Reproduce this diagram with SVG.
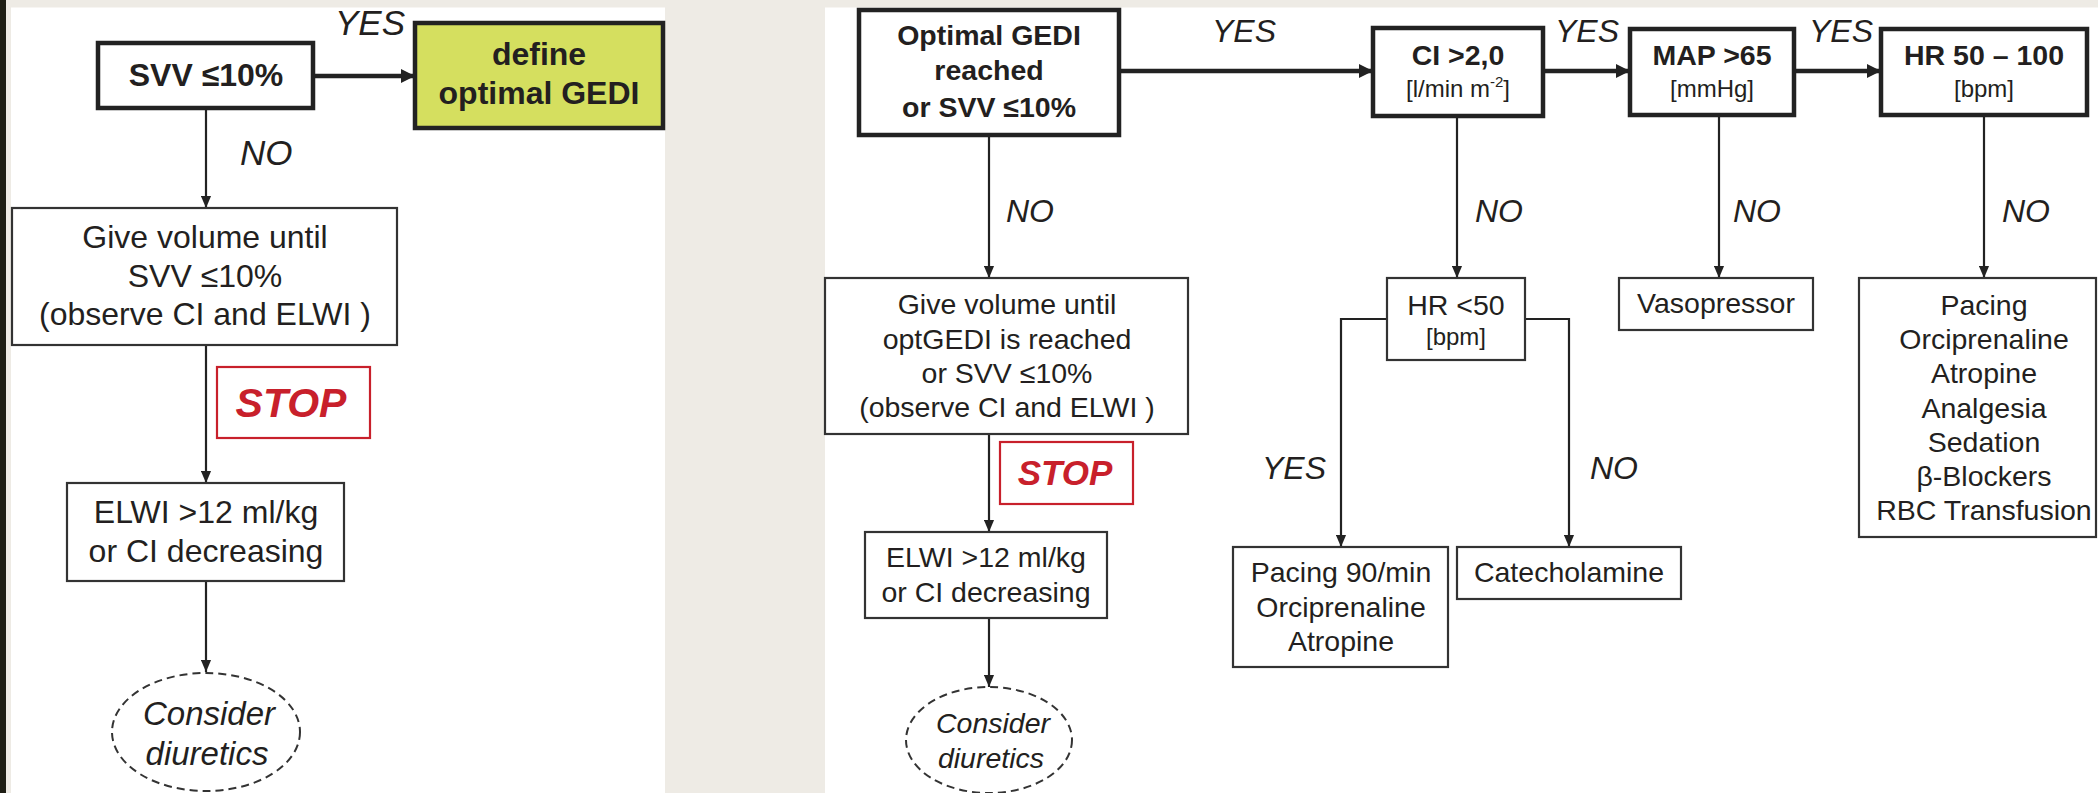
<svg xmlns="http://www.w3.org/2000/svg" width="2098" height="793" viewBox="0 0 2098 793">
<defs>
<style>
.t{font-family:"Liberation Sans",Arial,sans-serif;fill:#231f20;text-anchor:middle}
.s{text-anchor:start}
.bd{font-weight:bold}
.it{font-style:italic}
.L{font-size:32px}
.R{font-size:28.5px}
.sm{font-size:24px}
.box{fill:#fff;stroke:#333;stroke-width:2.2}
.thick{fill:#fff;stroke:#222;stroke-width:4.5}
.ln{fill:none;stroke:#222;stroke-width:2.2}
.lt{fill:none;stroke:#222;stroke-width:4.5}
.stop{fill:#fff;stroke:#c8202b;stroke-width:2.2}
.stopt{font-family:"Liberation Sans",Arial,sans-serif;font-weight:bold;font-style:italic;fill:#c8202b;text-anchor:middle}
.dash{fill:#fff;stroke:#333;stroke-width:2;stroke-dasharray:8 5}
</style>
<marker id="a" markerUnits="userSpaceOnUse" markerWidth="12" markerHeight="11" refX="13" refY="5.5" orient="auto" viewBox="0 0 13 11"><path d="M0,0 L13,5.5 L0,11 z" fill="#222"/></marker>
<marker id="A" markerUnits="userSpaceOnUse" markerWidth="14" markerHeight="14" refX="14" refY="7" orient="auto" viewBox="0 0 14 14"><path d="M0,0 L14,7 L0,14 z" fill="#222"/></marker>
</defs>
<rect x="0" y="0" width="2098" height="793" fill="#eeebe5"/>
<rect x="0" y="0" width="6" height="793" fill="#1e1e14"/>
<rect x="11" y="7.5" width="654" height="786" fill="#fff"/>
<rect x="825" y="7.5" width="1273" height="786" fill="#fff"/>

<g id="connectors">
<line class="lt" x1="313" y1="76" x2="415" y2="76" marker-end="url(#A)"/>
<line class="ln" x1="206" y1="108" x2="206" y2="208" marker-end="url(#a)"/>
<line class="ln" x1="206" y1="345" x2="206" y2="483" marker-end="url(#a)"/>
<line class="ln" x1="206" y1="581" x2="206" y2="672" marker-end="url(#a)"/>
<line class="lt" x1="1119" y1="71" x2="1373" y2="71" marker-end="url(#A)"/>
<line class="lt" x1="1543" y1="71" x2="1630" y2="71" marker-end="url(#A)"/>
<line class="lt" x1="1794" y1="71" x2="1881" y2="71" marker-end="url(#A)"/>
<line class="ln" x1="989" y1="135" x2="989" y2="278" marker-end="url(#a)"/>
<line class="ln" x1="989" y1="434" x2="989" y2="532" marker-end="url(#a)"/>
<line class="ln" x1="989" y1="618" x2="989" y2="687" marker-end="url(#a)"/>
<line class="ln" x1="1457" y1="116" x2="1457" y2="278" marker-end="url(#a)"/>
<line class="ln" x1="1719" y1="115" x2="1719" y2="278" marker-end="url(#a)"/>
<line class="ln" x1="1984" y1="115" x2="1984" y2="278" marker-end="url(#a)"/>
<polyline class="ln" points="1387,319 1341,319 1341,547" marker-end="url(#a)"/>
<polyline class="ln" points="1525,319 1569,319 1569,547" marker-end="url(#a)"/>
<text class="t it" style="font-size:35px" x="370" y="35">YES</text>
<text class="t it s" style="font-size:35px" x="240" y="165">NO</text>
<text class="t it" style="font-size:32px" x="1244" y="42">YES</text>
<text class="t it" style="font-size:32px" x="1587" y="42">YES</text>
<text class="t it" style="font-size:32px" x="1841" y="42">YES</text>
<text class="t it s" style="font-size:32px" x="1006" y="222">NO</text>
<text class="t it s" style="font-size:32px" x="1475" y="222">NO</text>
<text class="t it s" style="font-size:32px" x="1733" y="222">NO</text>
<text class="t it s" style="font-size:32px" x="2002" y="222">NO</text>
<text class="t it" style="font-size:32px" x="1294" y="479">YES</text>
<text class="t it" style="font-size:32px" x="1614" y="479">NO</text>
</g>

<g id="svv">
<rect class="thick" x="98" y="43" width="215" height="65"/>
<text class="t bd L" x="206" y="86">SVV ≤10%</text>
</g>
<g id="define-gedi">
<rect class="thick" x="415" y="23" width="248" height="105" style="fill:#d5df5f"/>
<text class="t bd L" x="539" y="65">define</text>
<text class="t bd L" x="539" y="104">optimal GEDI</text>
</g>
<g id="give-volume-left">
<rect class="box" x="12" y="208" width="385" height="137"/>
<text class="t L" x="205" y="248">Give volume until</text>
<text class="t L" x="205" y="287">SVV ≤10%</text>
<text class="t L" x="205" y="325">(observe CI and ELWI )</text>
</g>
<g id="stop-left">
<rect class="stop" x="217" y="367" width="153" height="71"/>
<text class="stopt" style="font-size:41px" x="291" y="417">STOP</text>
</g>
<g id="elwi-left">
<rect class="box" x="67" y="483" width="277" height="98"/>
<text class="t L" x="206" y="523">ELWI &gt;12 ml/kg</text>
<text class="t L" x="206" y="562">or CI decreasing</text>
</g>
<g id="diuretics-left">
<ellipse class="dash" cx="206" cy="732" rx="94" ry="59"/>
<text class="t it" style="font-size:33px" x="209" y="725">Consider</text>
<text class="t it" style="font-size:33px" x="207" y="765">diuretics</text>
</g>

<g id="optimal-gedi">
<rect class="thick" x="859" y="10" width="260" height="125"/>
<text class="t bd R" x="989" y="45">Optimal GEDI</text>
<text class="t bd R" x="989" y="80">reached</text>
<text class="t bd R" x="989" y="117">or SVV ≤10%</text>
</g>
<g id="ci">
<rect class="thick" x="1373" y="28" width="170" height="88"/>
<text class="t bd R" x="1458" y="65">CI &gt;2,0</text>
<text class="t sm" x="1458" y="97">[l/min m<tspan font-size="15" dy="-10">-2</tspan><tspan dy="10">]</tspan></text>
</g>
<g id="map">
<rect class="thick" x="1630" y="29" width="164" height="86"/>
<text class="t bd R" x="1712" y="65">MAP &gt;65</text>
<text class="t sm" x="1712" y="97">[mmHg]</text>
</g>
<g id="hr-range">
<rect class="thick" x="1881" y="29" width="206" height="86"/>
<text class="t bd R" x="1984" y="65">HR 50 – 100</text>
<text class="t sm" x="1984" y="97">[bpm]</text>
</g>
<g id="give-volume-right">
<rect class="box" x="825" y="278" width="363" height="156"/>
<text class="t R" x="1007" y="314">Give volume until</text>
<text class="t R" x="1007" y="349">optGEDI is reached</text>
<text class="t R" x="1007" y="383">or SVV ≤10%</text>
<text class="t R" x="1007" y="417">(observe CI and ELWI )</text>
</g>
<g id="stop-right">
<rect class="stop" x="1000" y="442" width="133" height="62"/>
<text class="stopt" style="font-size:35px" x="1065" y="485">STOP</text>
</g>
<g id="elwi-right">
<rect class="box" x="865" y="532" width="242" height="86"/>
<text class="t R" x="986" y="567">ELWI &gt;12 ml/kg</text>
<text class="t R" x="986" y="602">or CI decreasing</text>
</g>
<g id="diuretics-right">
<ellipse class="dash" cx="989" cy="740" rx="83" ry="53"/>
<text class="t it" style="font-size:28.5px" x="993" y="733">Consider</text>
<text class="t it" style="font-size:28.5px" x="991" y="768">diuretics</text>
</g>
<g id="hr-low">
<rect class="box" x="1387" y="278" width="138" height="82"/>
<text class="t R" x="1456" y="315">HR &lt;50</text>
<text class="t sm" x="1456" y="345">[bpm]</text>
</g>
<g id="pacing-90">
<rect class="box" x="1233" y="547" width="215" height="120"/>
<text class="t R" x="1341" y="582">Pacing 90/min</text>
<text class="t R" x="1341" y="617">Orciprenaline</text>
<text class="t R" x="1341" y="651">Atropine</text>
</g>
<g id="catecholamine">
<rect class="box" x="1457" y="547" width="224" height="52"/>
<text class="t R" x="1569" y="582">Catecholamine</text>
</g>
<g id="vasopressor">
<rect class="box" x="1619" y="278" width="194" height="52"/>
<text class="t R" x="1716" y="313">Vasopressor</text>
</g>
<g id="hr-treatment">
<rect class="box" x="1859" y="278" width="237" height="259"/>
<text class="t R" x="1984" y="315">Pacing</text>
<text class="t R" x="1984" y="349">Orciprenaline</text>
<text class="t R" x="1984" y="383">Atropine</text>
<text class="t R" x="1984" y="418">Analgesia</text>
<text class="t R" x="1984" y="452">Sedation</text>
<text class="t R" x="1984" y="486">β-Blockers</text>
<text class="t R" x="1984" y="520">RBC Transfusion</text>
</g>
</svg>
